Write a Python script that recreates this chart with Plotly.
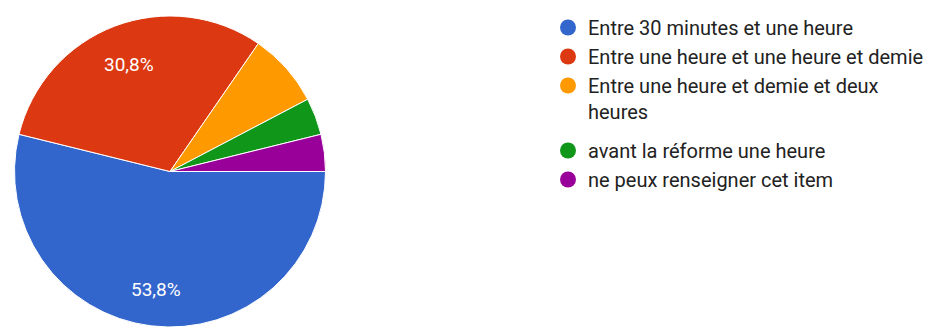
import math
import plotly.graph_objects as go

# Survey answers: time spent
categories = [
    "Entre 30 minutes et une heure",
    "Entre une heure et une heure et demie",
    "Entre une heure et demie et deux<br>heures",
    "avant la réforme une heure",
    "ne peux renseigner cet item",
]
counts = [14, 8, 2, 1, 1]
colors = ["#3366cc", "#dc3912", "#ff9900", "#109618", "#990099"]
# only the two large slices carry a percentage label
show_label = [True, True, False, False, False]
# legend block each entry is listed in
legend_ids = ["legend", "legend", "legend", "legend2", "legend2"]

W, H = 951, 327
PIE_TOP = 16
PIE_X0, PIE_X1 = 12, 328

fig = go.Figure()

fig.add_trace(go.Pie(
    labels=categories,
    values=counts,
    marker=dict(colors=colors, line=dict(color="white", width=1)),
    sort=False,
    direction="clockwise",
    rotation=90,
    textinfo="none",
    hoverinfo="label+percent",
    showlegend=False,
    domain=dict(x=[PIE_X0 / W, PIE_X1 / W], y=[0, (H - PIE_TOP) / H]),
))

# percentage labels placed at 3/4 of the radius along each slice's bisector
pie_h = H - PIE_TOP
radius = min(PIE_X1 - PIE_X0, pie_h) / 2
cx = (PIE_X0 + PIE_X1) / 2 / W
cy = (pie_h / 2) / H
total = sum(counts)
start = 0.0  # degrees clockwise from 3 o'clock
for cnt, show in zip(counts, show_label):
    span = cnt / total * 360
    if show:
        mid = math.radians(start + span / 2)
        r = 0.75 * radius
        dx = r * math.cos(mid)
        dy = r * math.sin(mid)  # downward on screen
        label = f"{cnt / total * 100:.1f}".replace(".", ",") + "%"
        fig.add_annotation(
            x=cx + dx / W, y=cy - dy / H,
            xref="paper", yref="paper",
            text=label, showarrow=False,
            font=dict(color="white", size=19, family="Roboto"),
            xanchor="center", yanchor="middle", yshift=-2,
        )
    start += span

# legend entries with round markers
for name, col, lg in zip(categories, colors, legend_ids):
    fig.add_trace(go.Scatter(
        x=[None], y=[None], mode="markers", name=name,
        legendgroup=name, legend=lg,
        marker=dict(symbol="circle", size=18, color=col),
    ))

legend_style = dict(
    x=548 / W, xanchor="left",
    yanchor="top",
    valign="top",
    font=dict(family="Roboto", size=20, color="#222222"),
    tracegroupgap=0,
    itemsizing="trace",
    bgcolor="rgba(0,0,0,0)",
)

fig.update_layout(
    width=W, height=H,
    margin=dict(l=0, r=0, t=0, b=0),
    paper_bgcolor="white",
    plot_bgcolor="white",
    xaxis=dict(visible=False),
    yaxis=dict(visible=False),
    legend=dict(y=1 - 8 / H, **legend_style),
    legend2=dict(y=1 - 131 / H, **legend_style),
)

fig.write_html("out.html")
